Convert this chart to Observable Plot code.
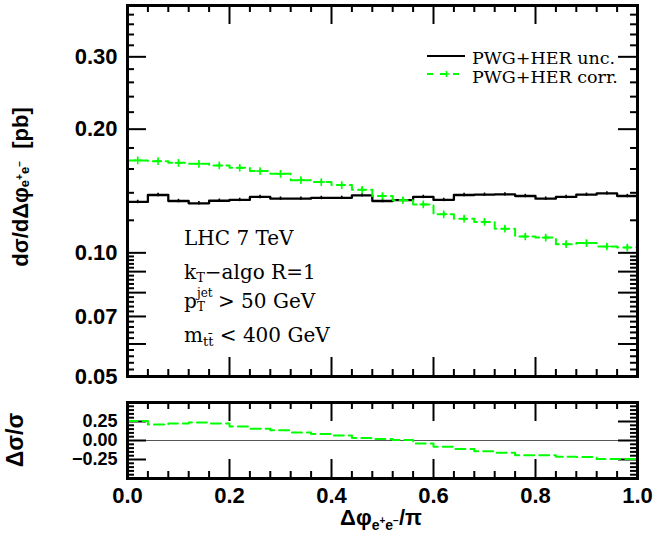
<!DOCTYPE html>
<html>
<head>
<meta charset="utf-8">
<script src="https://cdn.jsdelivr.net/npm/d3@7"></script>
<script src="https://cdn.jsdelivr.net/npm/@observablehq/plot@0.6"></script>
<style>
  html, body { margin: 0; padding: 0; background: #fff; overflow: hidden; }
  #wrap { position: relative; width: 656px; height: 545px; }
  #p1, #p2 { position: absolute; left: 0; }
  #p1 { top: 0; }
  #p2 { top: 390px; }
  svg { overflow: visible; }
  #ov { position: absolute; left: 0; top: 0; pointer-events: none; }
  #ov text { white-space: pre; }
</style>
</head>
<body>
<div id="wrap">
  <div id="p1"></div>
  <div id="p2"></div>
  <svg id="ov" width="656" height="545"></svg>
</div>
<script>
// ---------------- data ----------------
const seriesNames = ["PWG+HER unc.", "PWG+HER corr."];
const binEdges = [0, 0.04, 0.08, 0.12, 0.16, 0.2, 0.24, 0.28, 0.32, 0.36, 0.4, 0.44, 0.48,
                  0.52, 0.56, 0.6, 0.64, 0.68, 0.72, 0.76, 0.8, 0.84, 0.88, 0.92, 0.96, 1.0];
const unc = [0.1330, 0.1383, 0.1337, 0.1320, 0.1339, 0.1345, 0.1368, 0.1355, 0.1355, 0.1360,
             0.1361, 0.1380, 0.1337, 0.1343, 0.1368, 0.1345, 0.1383, 0.1385, 0.1388, 0.1375,
             0.1355, 0.1368, 0.1385, 0.1396, 0.1375];
const uncErr = [0.0013, 0.0013, 0.0013, 0.0013, 0.0013, 0.0013, 0.0013, 0.0013, 0.0013, 0.0013,
                0.0013, 0.0013, 0.0013, 0.0013, 0.0013, 0.0013, 0.0013, 0.0013, 0.0013, 0.0013,
                0.0013, 0.0013, 0.0013, 0.0013, 0.0013];
const corr = [0.1679, 0.1672, 0.1656, 0.1647, 0.1632, 0.1611, 0.1581, 0.1557, 0.1503, 0.1487,
              0.1462, 0.1424, 0.1375, 0.1343, 0.1312, 0.1241, 0.1211, 0.1189, 0.1145, 0.1096,
              0.1089, 0.1050, 0.1056, 0.1036, 0.1030];
const corrErr = [0.0014, 0.0014, 0.0014, 0.0014, 0.0014, 0.0014, 0.0014, 0.0014, 0.0014, 0.0014,
                 0.0014, 0.0014, 0.0014, 0.0014, 0.0014, 0.0014, 0.0014, 0.0014, 0.0014, 0.0014,
                 0.0014, 0.0014, 0.0014, 0.0014, 0.0014];
const ratio = [0.255, 0.209, 0.225, 0.237, 0.225, 0.184, 0.155, 0.135, 0.106, 0.086,
               0.065, 0.032, 0.020, 0.007, -0.041, -0.082, -0.111, -0.140, -0.160, -0.193,
               -0.193, -0.214, -0.218, -0.242, -0.245];

// ticks
const xMajor = [0, 0.2, 0.4, 0.6, 0.8, 1.0];
const xMinor = d3.range(1, 25).filter(i => i % 5 !== 0).map(i => i * 0.04);
const yMainLong = [0.05, 0.06, 0.07, 0.08, 0.09, 0.1, 0.2, 0.3, 0.4];
const yMainShort = d3.range(26, 50).filter(i => i % 5 !== 0).map(i => i * 0.002)
  .concat(d3.range(6, 20).filter(i => i % 5 !== 0).map(i => i * 0.02));
const yMainLabels = [0.05, 0.07, 0.10, 0.20, 0.30];
const rLong = [-0.5, -0.25, 0, 0.25, 0.5];
const rShort = d3.range(-9, 10).filter(i => i % 5 !== 0).map(i => i * 0.05);
const rLabels = [-0.25, 0, 0.25];

// ---------------- helpers ----------------
const GREEN = "#00ff00";
const steps = vals => vals.map((v, i) => ({x: binEdges[i], y: v}))
  .concat([{x: binEdges[vals.length], y: vals[vals.length - 1]}]);
const centers = (vals, errs) => vals.map((v, i) => ({
  c: (binEdges[i] + binEdges[i + 1]) / 2, v, lo: v - errs[i], hi: v + errs[i]
}));

const W = 656, ML = 127, MR = 19;
const plotW = W - ML - MR;

function xTicks(vals, len, plotH) {
  return [
    Plot.ruleX(vals, {x: d => d, insetTop: plotH - len, stroke: "#000", strokeWidth: 2}),
    Plot.ruleX(vals, {x: d => d, insetBottom: plotH - len, stroke: "#000", strokeWidth: 2})
  ];
}
function yTicks(vals, len) {
  return [
    Plot.ruleY(vals, {y: d => d, insetRight: plotW - len, stroke: "#000", strokeWidth: 2}),
    Plot.ruleY(vals, {y: d => d, insetLeft: plotW - len, stroke: "#000", strokeWidth: 2})
  ];
}
const FAM = "Liberation Sans, Arial, sans-serif";

// ---------------- main panel ----------------
const H1 = 390, MT1 = 5, MB1 = 14;
const plotH1 = H1 - MT1 - MB1;
const p1 = Plot.plot({
  width: W, height: H1,
  marginLeft: ML, marginRight: MR, marginTop: MT1, marginBottom: MB1,
  style: {fontFamily: FAM, background: "transparent", overflow: "visible"},
  x: {domain: [0, 1], axis: null, label: null},
  y: {type: "log", domain: [0.05, 0.4], label: null},
  marks: [
    ...xTicks(xMajor, 19, plotH1),
    ...xTicks(xMinor, 7, plotH1),
    ...yTicks(yMainLong, 19),
    ...yTicks(yMainShort, 7),
    Plot.line(steps(unc), {x: "x", y: "y", curve: "step-after", stroke: "#000", strokeWidth: 2.3}),
    Plot.ruleX(centers(unc, uncErr), {x: "c", y1: "lo", y2: "hi", stroke: "#000", strokeWidth: 1.6}),
    Plot.line(steps(corr), {x: "x", y: "y", curve: "step-after", stroke: GREEN, strokeWidth: 2, strokeDasharray: "8,5"}),
    Plot.ruleX(centers(corr, corrErr), {x: "c", y1: "lo", y2: "hi", stroke: GREEN, strokeWidth: 1.6}),
    Plot.dot(centers(corr, corrErr), {x: "c", y: "v", symbol: "plus", r: 2.6, stroke: GREEN, strokeWidth: 1.6}),
    Plot.axisY(yMainLabels, {anchor: "left", tickSize: 0, tickPadding: 10, tickFormat: d3.format(".2f"), label: null,
      fontSize: 22, fontWeight: "bold", fontFamily: FAM}),
    Plot.frame({stroke: "#000", strokeWidth: 3})
  ]
});
document.getElementById("p1").appendChild(p1);

// ---------------- ratio panel ----------------
const H2 = 155, MT2 = 12, MB2 = 67;
const plotH2 = H2 - MT2 - MB2;
const p2 = Plot.plot({
  width: W, height: H2,
  marginLeft: ML, marginRight: MR, marginTop: MT2, marginBottom: MB2,
  style: {fontFamily: FAM, background: "transparent", overflow: "visible"},
  x: {domain: [0, 1], label: null},
  y: {domain: [-0.5, 0.5], label: null},
  marks: [
    Plot.ruleY([0], {stroke: "#555", strokeWidth: 1}),
    ...xTicks(xMajor, 19, plotH2),
    ...xTicks(xMinor, 7, plotH2),
    ...yTicks(rLong, 19),
    ...yTicks(rShort, 7),
    Plot.line(steps(ratio), {x: "x", y: "y", curve: "step-after", stroke: GREEN, strokeWidth: 2, strokeDasharray: "10,5"}),
    Plot.axisY(rLabels, {anchor: "left", tickSize: 0, tickPadding: 10, tickFormat: d3.format(".2f"), label: null,
      fontSize: 18, fontWeight: "bold", fontFamily: FAM}),
    Plot.axisX(xMajor, {anchor: "bottom", tickSize: 0, tickPadding: 9, tickFormat: d3.format(".1f"), label: null,
      fontSize: 22, fontWeight: "bold", fontFamily: FAM}),
    Plot.frame({stroke: "#000", strokeWidth: 3})
  ]
});
document.getElementById("p2").appendChild(p2);

// ---------------- overlay: legend, annotations, axis titles ----------------
const ov = document.getElementById("ov");
ov.innerHTML = `
  <g font-family="DejaVu Serif, serif" font-size="17.5" fill="#000">
    <line x1="427" x2="465" y1="56" y2="56" stroke="#000" stroke-width="2.2"/>
    <line x1="427" x2="465" y1="74" y2="74" stroke="${GREEN}" stroke-width="2" stroke-dasharray="6,7"/>
    <path d="M443.5,74h6M446.5,71v6" stroke="${GREEN}" stroke-width="1.6" fill="none"/>
    <text x="472" y="64">${seriesNames[0]}</text>
    <text x="472" y="83">${seriesNames[1]}</text>
  </g>
  <g font-family="DejaVu Serif, serif" font-size="20" fill="#000">
    <text x="184" y="245">LHC 7 TeV</text>
    <text x="184" y="279">k<tspan font-size="13" dy="3">T</tspan><tspan font-size="20" dy="-3">−algo R=1</tspan></text>
    <text x="184" y="308">p<tspan x="197" dy="-11" font-size="12">jet</tspan><tspan x="197" dy="13.5" font-size="12">T</tspan><tspan x="218" dy="-2.5" font-size="20">&gt; 50 GeV</tspan></text>
    <text x="184" y="342">m<tspan font-size="13" dy="3.5">tt&#x0304;</tspan><tspan font-size="20" dy="-3.5"> &lt; 400 GeV</tspan></text>
  </g>
  <g font-family="${FAM}" font-weight="bold" fill="#000">
    <text transform="translate(28,187) rotate(-90)" text-anchor="middle" font-size="22">dσ/dΔφ<tspan font-size="13" dy="1">e</tspan><tspan font-size="10" dy="-6">+</tspan><tspan font-size="13" dy="6">e</tspan><tspan font-size="10" dy="-6">−</tspan><tspan font-size="22" dy="5">  [pb]</tspan></text>
    <text transform="translate(23,440) rotate(-90)" text-anchor="middle" font-size="23">Δσ/σ</text>
    <text x="381" y="525" text-anchor="middle" font-size="22">Δφ<tspan font-size="14" dy="5">e</tspan><tspan font-size="10" dy="-6">+</tspan><tspan font-size="14" dy="6">e</tspan><tspan font-size="10" dy="-6">−</tspan><tspan font-size="22" dy="1">/π</tspan></text>
  </g>
`;
</script>
</body>
</html>
